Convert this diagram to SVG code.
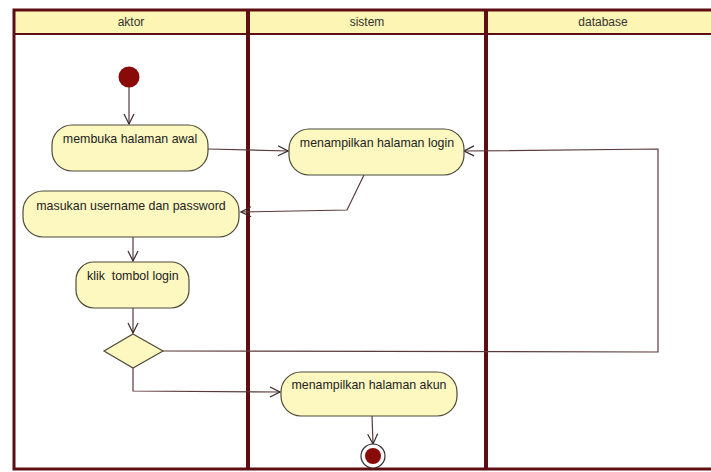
<svg xmlns="http://www.w3.org/2000/svg" width="711" height="472" viewBox="0 0 711 472">
<style>
.lane{fill:#ffffff;stroke:none}
.hdr{fill:#fdf5b4;stroke:none}
.frame{fill:none;stroke:#5e0e12;stroke-width:3}
.div{stroke:#5e0e12;stroke-width:4}
.act{fill:#fdf8c0;stroke:#4d4a3a;stroke-width:1.2}
.t{font-family:"Liberation Sans",Arial,sans-serif;font-size:12.4px;fill:#222}
.h{font-family:"Liberation Sans",Arial,sans-serif;font-size:12px;fill:#333;text-anchor:middle}
.c{fill:none;stroke:#5a3a3a;stroke-width:1.2}
</style>
<defs>
<marker id="arr" viewBox="0 0 12 12" refX="11" refY="6" markerWidth="12" markerHeight="12" markerUnits="userSpaceOnUse" orient="auto">
<path d="M1,1 L11,6 L1,11" fill="none" stroke="#3a2a2a" stroke-width="1.2"/>
</marker>
</defs>
<rect width="711" height="472" fill="#ffffff"/>
<g id="swimlanes">
<rect class="hdr" x="14" y="10" width="700" height="24"/>
<line x1="14" y1="34" x2="711" y2="34" stroke="#5e0e12" stroke-width="2"/>
<path class="frame" d="M711,10 L14,10 L14,469 L711,469"/>
<line class="div" x1="248" y1="10" x2="248" y2="469"/>
<line class="div" x1="486" y1="10" x2="486" y2="469"/>
<text class="h" x="131" y="26">aktor</text>
<text class="h" x="367" y="26">sistem</text>
<text class="h" x="603" y="26">database</text>
</g>
<g id="connectors">
<path class="c" d="M129,85 L129,124" marker-end="url(#arr)"/>
<path class="c" d="M208,149 L288,151" marker-end="url(#arr)"/>
<path class="c" d="M364,175 L347,210 L241,212" marker-end="url(#arr)"/>
<path class="c" d="M133,237 L133,261" marker-end="url(#arr)"/>
<path class="c" d="M133,308 L133,333" marker-end="url(#arr)"/>
<path class="c" d="M163,351 L658,352 L658,149 L464,151" marker-end="url(#arr)"/>
<path class="c" d="M133,368 L133,391 L280,392" marker-end="url(#arr)"/>
<path class="c" d="M372,415 L373,444" marker-end="url(#arr)"/>
</g>
<g id="start">
<circle cx="129" cy="77" r="10.5" fill="#8a0a0a"/>
</g>
<g id="membuka-halaman-awal">
<rect class="act" x="52" y="125" width="156" height="46" rx="20" ry="20"/>
<text class="t" x="130" y="143" text-anchor="middle">membuka halaman awal</text>
</g>
<g id="menampilkan-halaman-login">
<rect class="act" x="289" y="129" width="175" height="46" rx="20" ry="20"/>
<text class="t" x="377" y="147" text-anchor="middle">menampilkan halaman login</text>
</g>
<g id="masukan-username">
<rect class="act" x="23" y="191" width="216" height="46" rx="20" ry="20"/>
<text class="t" x="131" y="210" text-anchor="middle">masukan username dan password</text>
</g>
<g id="klik-tombol-login">
<rect class="act" x="76" y="262" width="113" height="46" rx="18" ry="18"/>
<text class="t" x="87" y="280" xml:space="preserve">klik  tombol login</text>
</g>
<g id="decision">
<polygon class="act" points="133,334 163,351 133,368 104,351"/>
</g>
<g id="menampilkan-halaman-akun">
<rect class="act" x="281" y="372" width="176" height="44" rx="20" ry="20"/>
<text class="t" x="369" y="389" text-anchor="middle">menampilkan halaman akun</text>
</g>
<g id="end">
<circle cx="373" cy="456" r="12" fill="#ffffff" stroke="#3a2a2a" stroke-width="1.2"/>
<circle cx="373" cy="456" r="8" fill="#8a0a0a"/>
</g>
</svg>
